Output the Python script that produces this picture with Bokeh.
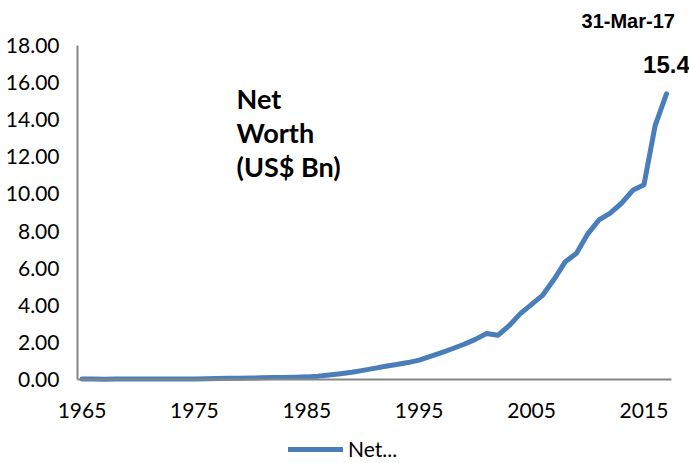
from bokeh.plotting import figure
from bokeh.models import (Range1d, FixedTicker, NumeralTickFormatter, Label,
                          Legend, LegendItem)
from bokeh.embed import file_html
from bokeh.resources import INLINE

# Net worth by year, US$ billions
years = list(range(1965, 2018))
net_worth = [0.03, 0.02, 0.01, 0.02, 0.02, 0.03, 0.03, 0.03, 0.03, 0.03,
             0.03, 0.04, 0.05, 0.06, 0.07, 0.08, 0.09, 0.10, 0.11, 0.12,
             0.14, 0.18, 0.24, 0.31, 0.39, 0.49, 0.60, 0.71, 0.81, 0.91,
             1.04, 1.24, 1.45, 1.67, 1.90, 2.16, 2.48, 2.38, 2.90, 3.55,
             4.05, 4.55, 5.40, 6.35, 6.80, 7.85, 8.60, 8.97, 9.50, 10.20,
             10.50, 13.70, 15.40]

x_ticks = [1965, 1975, 1985, 1995, 2005, 2015]
y_ticks = [0, 2, 4, 6, 8, 10, 12, 14, 16, 18]

series_name = "Net..."
inner_title = "Net\nWorth\n(US$ Bn)"
date_label = "31-Mar-17"

LINE_COLOR = "#4A7EBB"
AXIS_COLOR = "#868686"
TICK_FONT = "Lato"

# axis extents (the visible axis lines span only these)
X_MIN, X_MAX = 1964.6, 2017.45
Y_MIN, Y_MAX = 0, 18

# the frame fills the whole canvas so that labels and legend outside the
# axis box are not clipped; the axes are pinned at fixed data locations
p = figure(width=689, height=463, output_backend="svg", toolbar_location=None,
           x_range=Range1d(1957.75, 2019.05), y_range=Range1d(-4.53, 20.43),
           min_border=0)
p.outline_line_color = None
p.xgrid.grid_line_color = None
p.ygrid.grid_line_color = None
p.background_fill_color = "white"
p.border_fill_color = "white"

for ax in (p.xaxis[0], p.yaxis[0]):
    ax.axis_line_color = AXIS_COLOR
    ax.axis_line_width = 2
    ax.major_tick_line_color = None
    ax.minor_tick_line_color = None
    ax.major_tick_out = 0
    ax.major_tick_in = 0
    ax.major_label_text_font = TICK_FONT
    ax.major_label_text_font_size = "21px"
    ax.major_label_text_color = "black"

p.xaxis[0].ticker = FixedTicker(ticks=x_ticks)
p.xaxis[0].major_label_standoff = 24
p.xaxis[0].fixed_location = Y_MIN
p.xaxis[0].bounds = (X_MIN, X_MAX)

p.yaxis[0].ticker = FixedTicker(ticks=y_ticks)
p.yaxis[0].formatter = NumeralTickFormatter(format="0.00")
p.yaxis[0].major_label_standoff = 18
p.yaxis[0].fixed_location = X_MIN
p.yaxis[0].bounds = (Y_MIN, Y_MAX)

line = p.line(years, net_worth, line_color=LINE_COLOR, line_width=5,
              line_join="round", line_cap="round")

# label above the last point, stating its value
p.add_layout(Label(x=years[-1], y=net_worth[-1], text=f"{net_worth[-1]:.1f}",
                   y_offset=29, text_align="center",
                   text_baseline="alphabetic", text_font="Liberation Sans",
                   text_font_style="bold", text_font_size="24px",
                   text_color="black"))

p.add_layout(Label(x=2013.6, y=19.3, text=date_label, text_align="center",
                   text_baseline="middle", text_font="Liberation Sans",
                   text_font_style="bold", text_font_size="20px",
                   text_color="black"))

p.add_layout(Label(x=1978.75, y=13.32, text=inner_title, text_align="left",
                   text_baseline="middle", text_font=TICK_FONT,
                   text_font_style="bold", text_font_size="27px",
                   text_line_height=1.03, text_color="black"))

legend = Legend(items=[LegendItem(label=series_name, renderers=[line])],
                orientation="horizontal", location=(288, 2),
                glyph_width=55, glyph_height=20, label_standoff=5,
                label_text_font=TICK_FONT, label_text_font_size="21px",
                label_text_color="black", border_line_color=None,
                background_fill_alpha=0, padding=0, margin=0)
p.add_layout(legend, "center")

open("out.html", "w").write(file_html(p, INLINE))
